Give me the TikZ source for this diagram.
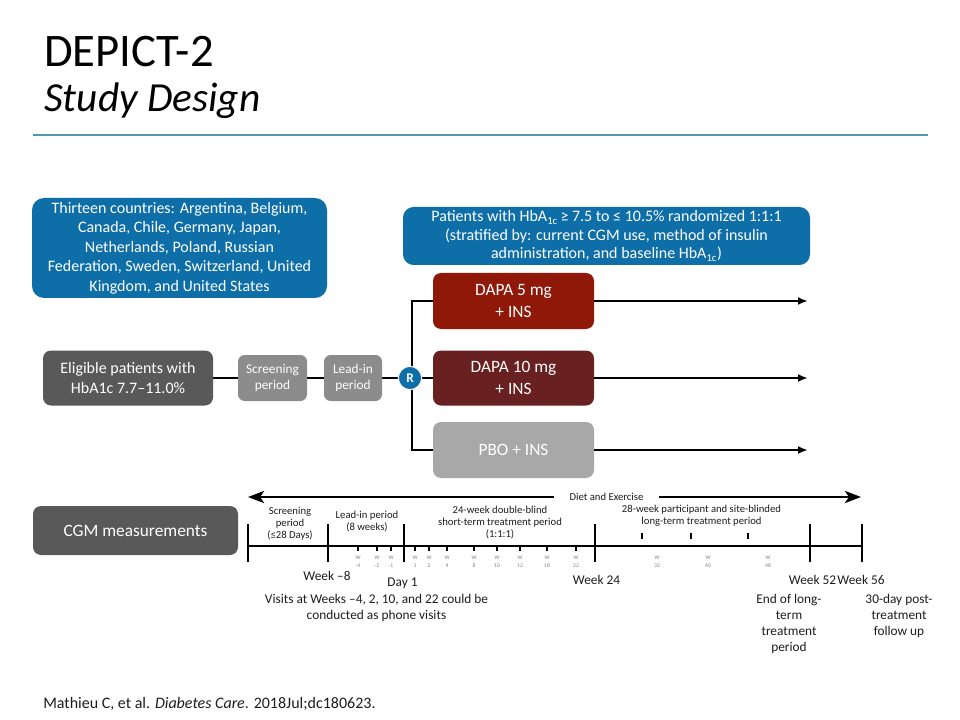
\documentclass[tikz,border=0pt]{standalone}
\usepackage{fontspec}
\setmainfont{Carlito}
\usetikzlibrary{arrows.meta,backgrounds}
\definecolor{cblue}{RGB}{14,110,168}
\definecolor{dgray}{RGB}{89,89,89}
\definecolor{mgray}{RGB}{140,140,140}
\definecolor{lgray}{RGB}{168,168,168}
\definecolor{dapafive}{RGB}{144,24,8}
\definecolor{dapaten}{RGB}{104,32,32}
\definecolor{teal}{RGB}{80,155,170}
\definecolor{txt}{RGB}{30,30,30}
\begin{document}
\begin{tikzpicture}[x=0.75pt,y=-0.75pt,
  box/.style={rounded corners=6pt, text=white, align=center, inner sep=0pt},
  conn/.style={line width=1.6pt, black},
  arr/.style={line width=1.6pt, black, -{Latex[length=7.5pt,width=6pt]}},
  bigarr/.style={line width=2.2pt, black, -{Stealth[length=12pt,width=9pt,inset=3pt]}},
  tl/.style={line width=2.2pt, black},
  phase/.style={align=center, text=txt, font=\fontsize{8}{9}\selectfont, inner sep=0pt},
  wk/.style={align=center, text=txt, font=\fontsize{10}{12}\selectfont, inner sep=0pt},
  wl/.style={text=gray, font=\fontsize{4.2}{4.5}\selectfont, inner sep=0pt}
]
\useasboundingbox (0,0) rectangle (960,720);

% title
\node[anchor=base west, inner sep=0pt, text=black, font=\fontsize{35}{38}\selectfont] (title) at (44,67) {DEPICT-2};
\node[anchor=base west, inner sep=0pt, text=black, font=\fontsize{31}{34}\selectfont\itshape] (subtitle) at (44,112) {Study Design};
\draw[teal, line width=1.3pt] (33,135) -- (928,135);

% top boxes
\node[box, fill=cblue, rounded corners=9pt, minimum width=221.25pt, minimum height=75pt,
  font=\fontsize{12}{14.6}\selectfont] (countries) at (179.5,248)
  {Thirteen countries: Argentina, Belgium,\\ Canada, Chile, Germany, Japan,\\ Netherlands, Poland, Russian\\ Federation, Sweden, Switzerland, United\\ Kingdom, and United States};
\node[box, fill=cblue, rounded corners=8pt, minimum width=305.25pt, minimum height=43.5pt,
  font=\fontsize{12}{14}\selectfont] (patients) at (606.5,236)
  {Patients with HbA\textsubscript{1c}\,≥ 7.5 to ≤ 10.5\% randomized 1:1:1\\ (stratified by: current CGM use, method of insulin\\ administration, and baseline HbA\textsubscript{1c})};

% middle row
\node[box, fill=dgray, minimum width=127.5pt, minimum height=41.25pt,
  font=\fontsize{12}{15}\selectfont] (elig) at (128,378) {Eligible patients with\\ HbA1c 7.7–11.0\%};
\node[box, fill=mgray, rounded corners=5pt, minimum width=51.75pt, minimum height=34.5pt,
  font=\fontsize{10}{12}\selectfont] (scr) at (272.5,378) {Screening\\ period};
\node[box, fill=mgray, rounded corners=5pt, minimum width=43.5pt, minimum height=34.5pt,
  font=\fontsize{10}{12}\selectfont] (lead) at (353,378) {Lead-in\\ period};
\node[circle, fill=cblue, draw=white, line width=0.8pt, minimum size=17.5pt, inner sep=0pt,
  text=white, font=\fontsize{10}{10}\selectfont\bfseries] (R) at (410,378) {R};

\node[box, fill=dapafive, minimum width=120.75pt, minimum height=42pt,
  font=\fontsize{13}{16}\selectfont] (d5) at (513.5,301) {DAPA 5 mg\\ + INS};
\node[box, fill=dapaten, minimum width=120.75pt, minimum height=41.25pt,
  font=\fontsize{13}{16}\selectfont] (d10) at (513.5,378) {DAPA 10 mg\\ + INS};
\node[box, fill=lgray, minimum width=120.75pt, minimum height=42pt,
  font=\fontsize{13}{16}\selectfont] (pbo) at (513.5,450) {PBO + INS};

\coordinate (e5) at (808,301);
\coordinate (e10) at (808,378);
\coordinate (ep) at (808,450);

\begin{scope}[on background layer]
  \fill[white] (0,0) rectangle (960,720);
  \draw[conn] (elig) -- (scr);
  \draw[conn] (scr) -- (lead);
  \draw[conn] (lead) -- (R);
  \draw[conn] (R) -- (d10);
  \draw[conn] (d5.west) -- ++(-21,0) |- (pbo.west);
\end{scope}
\draw[arr] (d5) -- (e5);
\draw[arr] (d10) -- (e10);
\draw[arr] (pbo) -- (ep);

% CGM
\node[box, fill=dgray, minimum width=153.75pt, minimum height=36.75pt,
  font=\fontsize{13}{15}\selectfont] (cgm) at (135.5,530.5) {CGM measurements};

% diet and exercise
\node[inner xsep=11.5pt, inner ysep=1pt, text=txt, font=\fontsize{8}{9}\selectfont] (diet) at (606.5,497) {Diet and Exercise};
\coordinate (dl) at (248,497);
\coordinate (dr) at (861,497);
\draw[bigarr] (diet) -- (dl);
\draw[bigarr] (diet) -- (dr);

% timeline
\coordinate (t0) at (248,546);
\coordinate (t5) at (862,546);
\draw[tl] (t0) -- (t5);
\foreach \x in {248,328,404,595,810,862}
  \draw[tl] (\x,524) -- (\x,562);
\foreach \x/\n in {358/-4,377/-2,391/-1,415/1,429/2,447/4,474/8,497/10,520/12,547/18,576/22}{
  \fill (\x-1.4,546) rectangle (\x+1.4,551);
  \node[wl] at (\x,558) {W};
  \node[wl] at (\x,565.5) {\n};
}
\foreach \x in {642,691,748}
  \fill (\x-1.2,533) rectangle (\x+1.2,539);
\foreach \x/\n in {657/32,708/40,768/48}{
  \node[wl] at (\x,558) {W};
  \node[wl] at (\x,565.5) {\n};
}

% phase labels
\node[phase] (ph1) at (290,524) {Screening\\ period\\ (≤28 Days)};
\node[phase] (ph2) at (367,522) {Lead-in period\\ (8 weeks)};
\node[phase] (ph3) at (500,522.5) {24-week double-blind\\ short-term treatment period\\ (1:1:1)};
\node[phase] (ph4) at (701.5,516) {28-week participant and site-blinded\\ long-term treatment period};

% week labels
\node[wk, anchor=base] (w8) at (327,580) {Week –8};
\node[wk, anchor=base] (day1) at (402.5,586) {Day 1};
\node[wk, anchor=base] (w24) at (596.5,584) {Week 24};
\node[wk, anchor=base] (w52) at (812.5,584) {Week 52};
\node[wk, anchor=base] (w56) at (861,584) {Week 56};
\node[wk, anchor=north] (visits) at (376.5,594) {Visits at Weeks –4, 2, 10, and 22 could be\\ conducted as phone visits};
\node[wk, anchor=north] (endlt) at (789,594) {End of long-\\ term\\ treatment\\ period};
\node[wk, anchor=north] (post) at (899,594) {30-day post-\\ treatment\\ follow up};

% footer
\node[anchor=base west, inner sep=0pt, text=txt, font=\fontsize{12}{14}\selectfont] (ref) at (43,708)
  {Mathieu C, et al. \textit{Diabetes Care}. 2018Jul;dc180623.};
\end{tikzpicture}
\end{document}
